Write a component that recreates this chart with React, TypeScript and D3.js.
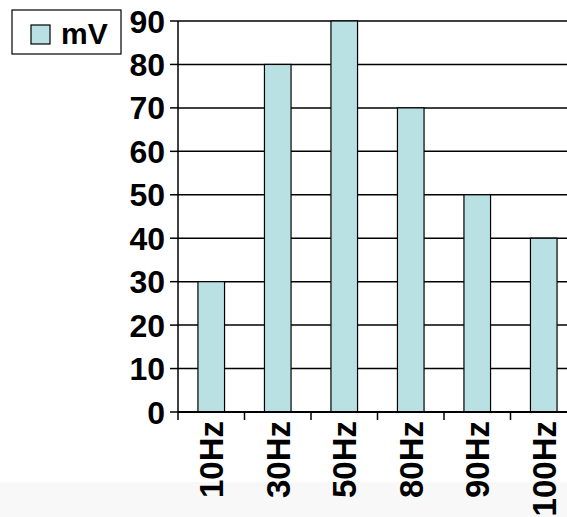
import React from "react";
import * as d3 from "d3";

// Frequency categories and measured voltage
const categories = ["10Hz", "30Hz", "50Hz", "80Hz", "90Hz", "100Hz"];
const values = [30, 80, 90, 70, 50, 40];
const yTicks = [0, 10, 20, 30, 40, 50, 60, 70, 80, 90];
const seriesName = "mV";

const W = 567;
const H = 517;
const FONT = "'Liberation Sans', Arial, Helvetica, sans-serif";
const BAR_FILL = "#b9e0e2";

export default function App() {
  const left = 178;
  const top = 21;
  const bottom = 412;
  const step = 66.5;

  const y = d3.scaleLinear().domain([0, 90]).range([bottom, top]);
  const x = d3
    .scaleBand<string>()
    .domain(categories)
    .range([left, left + step * categories.length])
    .paddingInner(0.6)
    .paddingOuter(0.3);

  const boundaries = d3.range(categories.length + 1).map((i) => left + i * x.step());

  return (
    <svg
      width={W}
      height={H}
      style={{ position: "absolute", left: 0, top: 0, background: "#ffffff" }}
      fontFamily={FONT}
    >
      <rect x={0} y={482} width={W} height={H - 482} fill="#f8f8f8" />

      {/* horizontal gridlines */}
      {yTicks.map((t) => (
        <line key={"g" + t} x1={left} x2={W} y1={y(t)} y2={y(t)} stroke="#000" strokeWidth={1.5} />
      ))}

      {/* bars */}
      {categories.map((c, i) => (
        <rect
          key={c}
          x={x(c)}
          y={y(values[i])}
          width={x.bandwidth()}
          height={y(0) - y(values[i])}
          fill={BAR_FILL}
          stroke="#000"
          strokeWidth={1.2}
        />
      ))}

      {/* y axis */}
      <line x1={left} x2={left} y1={top} y2={bottom} stroke="#000" strokeWidth={1.5} />
      {yTicks.map((t) => (
        <g key={"t" + t}>
          <line x1={left - 8} x2={left} y1={y(t)} y2={y(t)} stroke="#000" strokeWidth={1.5} />
          <text
            x={left - 13}
            y={y(t)}
            dy="0.36em"
            textAnchor="end"
            fontSize={32}
            fontWeight="bold"
            fill="#000"
          >
            {t}
          </text>
        </g>
      ))}

      {/* x axis */}
      <line x1={left} x2={W} y1={bottom} y2={bottom} stroke="#000" strokeWidth={2} />
      {boundaries.map((b, i) => (
        <line key={"b" + i} x1={b} x2={b} y1={bottom} y2={bottom + 8} stroke="#000" strokeWidth={1.5} />
      ))}
      {categories.map((c) => {
        const cx = (x(c) as number) + x.bandwidth() / 2;
        const ty = 421;
        return (
          <text
            key={"l" + c}
            transform={`translate(${cx},${ty}) rotate(-90)`}
            dy="0.36em"
            textAnchor="end"
            fontSize={33}
            fontWeight="bold"
            fill="#000"
          >
            {c}
          </text>
        );
      })}

      {/* legend */}
      <rect x={12} y={10} width={109} height={44} fill="#fff" stroke="#000" strokeWidth={1.2} />
      <rect x={31} y={25} width={19} height={19} fill={BAR_FILL} stroke="#000" strokeWidth={1.2} />
      <text x={61} y={44} fontSize={30} fontWeight="bold" fill="#000">
        {seriesName}
      </text>
    </svg>
  );
}
